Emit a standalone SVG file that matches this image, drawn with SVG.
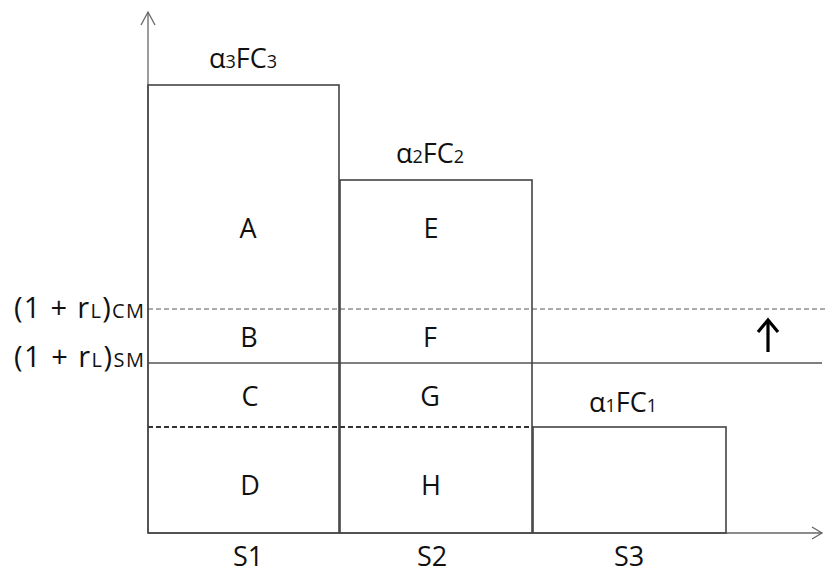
<svg xmlns="http://www.w3.org/2000/svg" width="825" height="574" viewBox="0 0 825 574">
<style>
text{font-family:"Open Sans","Liberation Sans",sans-serif;font-size:27px;fill:#111;text-anchor:middle}
.sub{font-size:18px}
.lab{text-anchor:start;font-size:29px}
.lab .sub{font-size:20px}
.ax{stroke:#666;stroke-width:1.3;fill:none}
.bar{stroke:#444;stroke-width:1.6;fill:none}
</style>
<rect width="825" height="574" fill="#fff"/>
<g id="connectors">
<line class="ax" x1="148" y1="533" x2="148" y2="12"/>
<polyline class="ax" points="141,25 148,12 155,25"/>
<line class="ax" x1="148" y1="533" x2="822" y2="533"/>
<polyline class="ax" points="812,527 822,533 812,539"/>
<line x1="148" y1="309" x2="825" y2="309" stroke="#555" stroke-width="1" stroke-dasharray="5,3"/>
<line x1="148" y1="363" x2="822" y2="363" stroke="#555" stroke-width="1.3"/>
<line x1="148" y1="427" x2="533" y2="427" stroke="#333" stroke-width="2" stroke-dasharray="5,3"/>
<line x1="768" y1="352" x2="768" y2="321" stroke="#000" stroke-width="3.2"/>
<polyline points="758,332 768,320 778,332" stroke="#000" stroke-width="3.2" fill="none"/>
</g>
<g id="S1">
<rect class="bar" x="148" y="85" width="191" height="448"/>
<text x="243" y="68">α<tspan class="sub">3</tspan>FC<tspan class="sub">3</tspan></text>
<text x="248" y="238">A</text><text x="249" y="347">B</text><text x="250" y="406">C</text><text x="250" y="495">D</text>
<text x="248" y="566">S1</text>
</g>
<g id="S2">
<rect class="bar" x="340" y="180" width="192" height="353"/>
<text x="430" y="163">α<tspan class="sub">2</tspan>FC<tspan class="sub">2</tspan></text>
<text x="431" y="238">E</text><text x="430" y="347">F</text><text x="430" y="406">G</text><text x="431" y="495">H</text>
<text x="432" y="566">S2</text>
</g>
<g id="S3">
<rect class="bar" x="533" y="427" width="193" height="106"/>
<text x="623" y="412">α<tspan class="sub">1</tspan>FC<tspan class="sub">1</tspan></text>
<text x="629" y="566">S3</text>
</g>
<g id="labels">
<text class="lab" x="14" y="318" textLength="130">(1 + r<tspan class="sub">L</tspan>)<tspan class="sub">CM</tspan></text>
<text class="lab" x="14" y="367" textLength="130">(1 + r<tspan class="sub">L</tspan>)<tspan class="sub">SM</tspan></text>
</g>
</svg>
